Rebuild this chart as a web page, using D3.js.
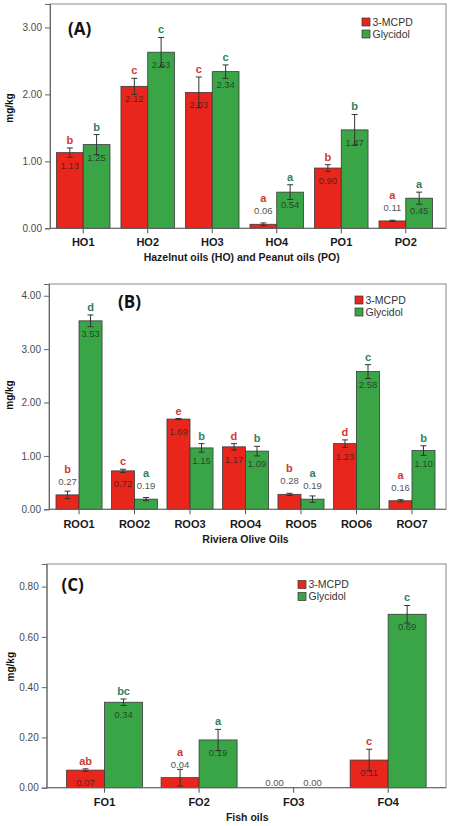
<!DOCTYPE html>
<html><head><meta charset="utf-8">
<script src="https://cdn.jsdelivr.net/npm/d3@7"></script>
<style>html,body{margin:0;padding:0;background:#fff;}svg{display:block;}</style>
</head><body>
<script>
// ---- Panel A data ----
const catsA = ["HO1","HO2","HO3","HO4","PO1","PO2"];
const mcpdA = [1.13,2.12,2.03,0.06,0.90,0.11];
const glyA = [1.25,2.63,2.34,0.54,1.47,0.45];
const mcpdErrA = [0.07,0.12,0.23,0.02,0.05,0.01];
const glyErrA = [0.15,0.22,0.10,0.11,0.23,0.09];
const mcpdLetA = ["b","c","c","a","b","a"];
const glyLetA = ["b","c","c","a","b","a"];
const ticksA = [0,1,2,3];
// ---- Panel B data ----
const catsB = ["ROO1","ROO2","ROO3","ROO4","ROO5","ROO6","ROO7"];
const mcpdB = [0.27,0.72,1.69,1.17,0.28,1.23,0.16];
const glyB = [3.53,0.19,1.15,1.09,0.19,2.58,1.10];
const mcpdErrB = [0.07,0.03,0.01,0.06,0.02,0.07,0.02];
const glyErrB = [0.11,0.03,0.08,0.09,0.06,0.13,0.09];
const mcpdLetB = ["b","c","e","d","b","d","a"];
const glyLetB = ["d","a","b","b","a","c","b"];
const ticksB = [0,1,2,3,4];
// ---- Panel C data ----
const catsC = ["FO1","FO2","FO3","FO4"];
const mcpdC = [0.07,0.04,0.00,0.11];
const glyC = [0.34,0.19,0.00,0.69];
const mcpdErrC = [0.005,0.033,0,0.043];
const glyErrC = [0.013,0.042,0,0.035];
const mcpdLetC = ["ab","a","","c"];
const glyLetC = ["bc","a","","c"];
const ticksC = [0,0.2,0.4,0.6,0.8];

const seriesNames = ["3-MCPD","Glycidol"];
const barColors = ["#e8261c","#3aa547"];
const letterColors = ["#cf3a30","#2e7f62"];

const svg = d3.select("body").append("svg").attr("width",450).attr("height",826);
const fmt = d3.format(".2f");
const FONT = "'Liberation Sans', Arial, sans-serif";

function panel(o){
  const g = svg.append("g");
  const x = d3.scaleBand().domain(o.cats).range([o.l, o.bandRight]).paddingInner(o.pi).paddingOuter(o.po);
  const xs = d3.scaleBand().domain([0,1]).range([0, x.bandwidth()]);
  const y = d3.scaleLinear().domain([0, o.ymax]).range([o.b, o.t]);

  // frame
  g.append("rect").attr("x",o.l).attr("y",o.t).attr("width",o.r-o.l).attr("height",o.b-o.t)
    .attr("fill","none").attr("stroke","#8a8a8a").attr("stroke-width",1);

  const rows = o.cats.map((c,i)=>({c, v:[o.mcpd[i],o.gly[i]], e:[o.mcpdErr[i],o.glyErr[i]], L:[o.mcpdLet[i],o.glyLet[i]]}));
  const items = [];
  rows.forEach(r=>{ [0,1].forEach(s=>items.push({c:r.c, s, v:r.v[s], e:r.e[s], L:r.L[s]})); });

  // bars
  g.selectAll("rect.bar").data(items.filter(d=>d.v>0)).join("rect").attr("class","bar")
    .attr("x",d=>x(d.c)+xs(d.s)).attr("width",xs.bandwidth())
    .attr("y",d=>y(d.v)).attr("height",d=>y(0)-y(d.v))
    .attr("fill",d=>barColors[d.s]).attr("stroke","#3a3a3a").attr("stroke-width",0.8);

  // axes
  const ya = g.append("g").attr("transform",`translate(${o.l},0)`)
    .call(d3.axisLeft(y).tickValues(o.ticks).tickFormat(fmt).tickSize(5).tickPadding(3));
  ya.select(".domain").attr("stroke","#666");
  ya.selectAll(".tick line").attr("stroke","#666");
  ya.selectAll(".tick text").attr("font-family",FONT).attr("font-size","10px").attr("fill","#4a4a4a");

  const xa = g.append("g").attr("transform",`translate(0,${o.b})`)
    .call(d3.axisBottom(x).tickSize(5).tickPadding(6));
  xa.select(".domain").remove();
  xa.selectAll(".tick line").attr("stroke","#555");
  xa.selectAll(".tick text").attr("font-family",FONT).attr("font-size","11px").attr("font-weight","bold").attr("fill","#1a1a1a")
    .attr("dy",null).attr("y", o.catY - o.b);
  g.append("line").attr("x1",o.l).attr("x2",o.r).attr("y1",o.b).attr("y2",o.b).attr("stroke","#666");

  // error bars
  const eb = items.filter(d=>d.v>0 && d.e>0);
  const cx = d=>x(d.c)+xs(d.s)+xs.bandwidth()/2;
  g.selectAll("line.err").data(eb).join("line").attr("class","err")
    .attr("x1",cx).attr("x2",cx).attr("y1",d=>y(d.v-d.e)).attr("y2",d=>y(d.v+d.e))
    .attr("stroke","#333").attr("stroke-width",1);
  [ -1, 1 ].forEach(sg=>{
    g.selectAll("line.cap"+sg).data(eb).join("line")
      .attr("x1",d=>cx(d)-3).attr("x2",d=>cx(d)+3)
      .attr("y1",d=>y(d.v+sg*d.e)).attr("y2",d=>y(d.v+sg*d.e))
      .attr("stroke","#333").attr("stroke-width",1);
  });

  // value labels & letters
  items.forEach(d=>{
    const h = y(0)-y(d.v);
    const inside = h >= 15.5;
    let ly;
    if (d.v===0) ly = o.b - 2;
    else if (inside) ly = y(d.v) + 16;
    else ly = y(d.v) - 10;
    g.append("text").attr("x",cx(d)).attr("y",ly).attr("text-anchor","middle")
      .attr("font-family",FONT).attr("font-size","9.5px")
      .attr("fill", inside ? "#1c1c1c" : "#555").attr("fill-opacity", inside?0.72:1)
      .text(fmt(d.v));
    if (d.L){
      const top = y(d.v+d.e);
      const lety = inside ? top - 4 : Math.min(ly - 12, top - 4);
      g.append("text").attr("x",cx(d)).attr("y",lety).attr("text-anchor","middle")
        .attr("font-family",FONT).attr("font-size","11px").attr("font-weight","bold")
        .attr("fill",letterColors[d.s]).text(d.L);
    }
  });

  // panel label
  g.append("text").attr("x",o.pl[0]).attr("y",o.pl[1]).attr("font-family","'Open Sans', sans-serif")
    .attr("font-weight","bold").attr("font-size","17px").attr("fill","#111").text(o.label);

  // legend
  seriesNames.forEach((n,i)=>{
    g.append("rect").attr("x",o.lg[0]).attr("y",o.lg[1]+i*12).attr("width",8).attr("height",8)
      .attr("fill",barColors[i]).attr("stroke","#333").attr("stroke-width",0.7);
    g.append("text").attr("x",o.lg[0]+10.5).attr("y",o.lg[1]+i*12+7.8)
      .attr("font-family",FONT).attr("font-size","10.5px").attr("fill","#333").text(n);
  });

  // y title
  g.append("text").attr("transform",`translate(${o.yt[0]},${o.yt[1]}) rotate(-90)`).attr("text-anchor","middle")
    .attr("font-family",FONT).attr("font-size","10px").attr("font-weight","bold").attr("fill","#111").text("mg/kg");
  // x title
  g.append("text").attr("x",o.xt[0]).attr("y",o.xt[1]).attr("text-anchor","middle")
    .attr("font-family",FONT).attr("font-size","10.5px").attr("font-weight","bold").attr("fill","#1a1a1a").text(o.xtitle);
}

panel({cats:catsA, mcpd:mcpdA, gly:glyA, mcpdErr:mcpdErrA, glyErr:glyErrA, mcpdLet:mcpdLetA, glyLet:glyLetA,
  ticks:ticksA, ymax:3.35, l:50, r:446, t:4, b:228.3, bandRight:439, pi:0.17, po:0.1, catY:246.5,
  label:"(A)", pl:[68,34.5], lg:[362,18], yt:[13,108], xt:[241.7,261], xtitle:"Hazelnut oils (HO) and Peanut oils (PO)"});
panel({cats:catsB, mcpd:mcpdB, gly:glyB, mcpdErr:mcpdErrB, glyErr:glyErrB, mcpdLet:mcpdLetB, glyLet:glyLetB,
  ticks:ticksB, ymax:4.22, l:49, r:446, t:284, b:509.3, bandRight:442, pi:0.17, po:0.126, catY:528.3,
  label:"(B)", pl:[118,307.5], lg:[355,296], yt:[13,395], xt:[245.5,543], xtitle:"Riviera Olive Oils"});
panel({cats:catsC, mcpd:mcpdC, gly:glyC, mcpdErr:mcpdErrC, glyErr:glyErrC, mcpdLet:mcpdLetC, glyLet:glyLetC,
  ticks:ticksC, ymax:0.89, l:46.7, r:446, t:564, b:787.7, bandRight:446, pi:0.196, po:0.21, catY:806.5,
  label:"(C)", pl:[61.5,591], lg:[298,580.5], yt:[13.5,666.7], xt:[247.2,820.5], xtitle:"Fish oils"});
</script>
</body></html>
